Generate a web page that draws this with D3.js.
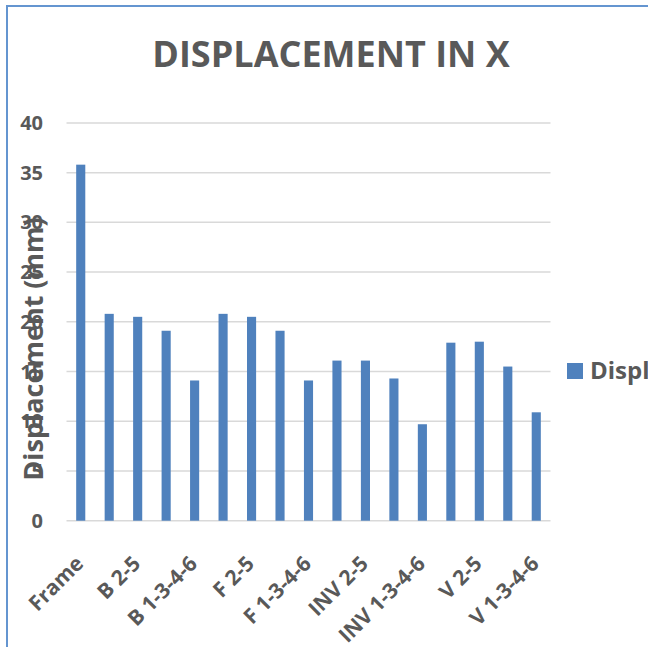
<!DOCTYPE html>
<html>
<head>
<meta charset="utf-8">
<script src="https://cdn.jsdelivr.net/npm/d3@7"></script>
<style>
  body { margin: 0; background: #fff; }
  svg { display: block; font-family: "Open Sans", "DejaVu Sans", sans-serif; }
</style>
</head>
<body>
<div id="chart"></div>
<script>
// categories (only every other one gets a visible label, as in the original)
let categories = ["Frame",
  "B 1-6", "B 2-5", "B 3-4", "B 1-3-4-6",
  "F 1-6", "F 2-5", "F 3-4", "F 1-3-4-6",
  "INV 1-6", "INV 2-5", "INV 3-4", "INV 1-3-4-6",
  "V 1-6", "V 2-5", "V 3-4", "V 1-3-4-6"];
let displacement = [35.8,
  20.8, 20.5, 19.1, 14.1,
  20.8, 20.5, 19.1, 14.1,
  16.1, 16.1, 14.3, 9.7,
  17.9, 18.0, 15.5, 10.9];
let yTicks = [0, 5, 10, 15, 20, 25, 30, 35, 40];
let seriesName = "Displacement (mm)";

let width = 648, height = 647;
let textColor = "#595959";
let barColor = "#4f81bd";

var svg = d3.select("#chart")
  .append("svg")
  .attr("width", width)
  .attr("height", height);

// chart border (only top/left visible in the crop)
svg.append("rect")
  .attr("x", 7).attr("y", 6)
  .attr("width", 700).attr("height", 700)
  .style("fill", "none")
  .style("stroke", "#6495d0")
  .style("stroke-width", 2);

var x = d3.scaleBand()
  .domain(categories)
  .range([66.5, 550.5])
  .paddingInner(0.68)
  .paddingOuter(0.34);

var y = d3.scaleLinear()
  .domain([0, 40])
  .range([520.7, 122.9]);

// gridlines
svg.append("g")
  .selectAll("line")
  .data(yTicks)
  .enter().append("line")
  .attr("x1", 66.5)
  .attr("x2", 550.5)
  .attr("y1", function(d) { return y(d); })
  .attr("y2", function(d) { return y(d); })
  .style("stroke", "#d9d9d9")
  .style("stroke-width", 1.5);

// bars
svg.append("g")
  .selectAll("rect")
  .data(displacement)
  .enter().append("rect")
  .attr("x", function(d, i) { return x(categories[i]); })
  .attr("y", function(d) { return y(d); })
  .attr("width", x.bandwidth())
  .attr("height", function(d) { return y(0) - y(d); })
  .style("fill", barColor);

// y tick labels
svg.append("g")
  .selectAll("text")
  .data(yTicks)
  .enter().append("text")
  .attr("x", 43)
  .attr("y", function(d) { return y(d); })
  .attr("dy", ".35em")
  .attr("text-anchor", "end")
  .style("font-size", "20px")
  .style("font-weight", "bold")
  .style("fill", textColor)
  .text(function(d) { return d; });

// x labels, every second category
svg.append("g")
  .selectAll("text")
  .data(categories.filter(function(d, i) { return i % 2 == 0; }))
  .enter().append("text")
  .attr("text-anchor", "end")
  .attr("transform", function(d) {
    var cx = x(d) + x.bandwidth() / 2 + 4;
    return "translate(" + cx + ",565) rotate(-45)";
  })
  .style("font-size", "21px")
  .style("font-weight", "bold")
  .style("fill", textColor)
  .text(function(d) { return d; });

// title
svg.append("text")
  .attr("x", 331)
  .attr("y", 67)
  .attr("text-anchor", "middle")
  .style("font-size", "36px")
  .style("font-weight", "bold")
  .style("fill", textColor)
  .text("DISPLACEMENT IN X");

// y axis title (overlaps the tick labels, like the original)
svg.append("text")
  .attr("transform", "translate(43,349) rotate(-90)")
  .attr("text-anchor", "middle")
  .style("font-size", "27px")
  .style("font-weight", "bold")
  .style("fill", textColor)
  .text("Displacement (mm)");

// legend, runs off the right edge
svg.append("rect")
  .attr("x", 567).attr("y", 363)
  .attr("width", 16).attr("height", 16)
  .style("fill", barColor);

svg.append("text")
  .attr("x", 590)
  .attr("y", 379)
  .style("font-size", "24px")
  .style("font-weight", "bold")
  .style("fill", textColor)
  .text(seriesName);
</script>
</body>
</html>
